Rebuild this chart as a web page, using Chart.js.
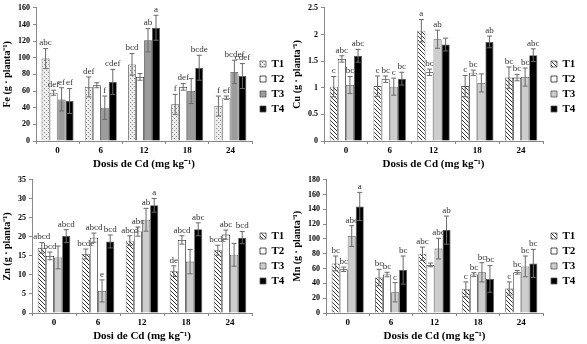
<!DOCTYPE html>
<html>
<head>
<meta charset="utf-8">
<script src="https://cdn.jsdelivr.net/npm/chart.js@4.4.1/dist/chart.umd.min.js"></script>
<style>
  body { margin: 0; background: #fff; }
  canvas { position: absolute; }
</style>
</head>
<body>
<canvas id="fe" width="290" height="172" style="left:0;top:0"></canvas>
<canvas id="cu" width="297" height="172" style="left:290px;top:0"></canvas>
<canvas id="zn" width="290" height="172" style="left:0;top:172px"></canvas>
<canvas id="mn" width="297" height="172" style="left:290px;top:172px"></canvas>
<script>
// Cd doses (categories) and treatments
const doses = ['0', '6', '12', '18', '24'];
const treatments = ['T1', 'T2', 'T3', 'T4'];

// Fe: rows = T1..T4, columns = doses
const feMeans = [[99, 65, 92, 44, 42], [58, 67, 77, 65, 52], [50, 40, 121, 60, 83], [48, 71, 136, 88, 78]];
const feErrors = [[12, 12, 13, 12, 12], [3, 3, 4, 4, 2], [14, 14, 14, 15, 14], [15, 15, 15, 15, 15]];
const feLetters = [['abc', 'def', 'bcd', 'f', 'f'], ['def', '', '', 'def', 'ef'], ['ef', 'f', 'ab', '', 'bcdef'], ['ef', 'cdef', 'a', 'bcde', 'cdef']];
const feTicks = [0, 20, 40, 60, 80, 100, 120, 140, 160];

// Cu
const cuMeans = [[1.02, 1.03, 2.07, 1.03, 1.19], [1.54, 1.16, 1.29, 1.28, 1.19], [1.05, 1.02, 1.91, 1.09, 1.2], [1.6, 1.17, 1.81, 1.86, 1.61]];
const cuErrors = [[0.19, 0.19, 0.21, 0.2, 0.2], [0.06, 0.06, 0.06, 0.05, 0.06], [0.16, 0.16, 0.17, 0.17, 0.17], [0.12, 0.12, 0.12, 0.11, 0.12]];
const cuLetters = [['c', 'c', 'a', 'c', 'bc'], ['abc', 'bc', 'bc', 'bc', 'bc'], ['bc', 'c', 'ab', '', 'bc'], ['abc', 'bc', '', 'ab', 'abc']];
const cuTicks = [0, 0.5, 1, 1.5, 2, 2.5];

// Zn
const znMeans = [[17.1, 15.5, 19, 11, 16.5], [15, 19.8, 21.4, 19.2, 20.6], [14.6, 5.8, 24.5, 13.5, 15.3], [20.2, 18.8, 28.3, 22, 19.8]];
const znErrors = [[1.4, 1.3, 1.3, 1.4, 1.3], [1, 1.2, 1.2, 1.1, 1.2], [3, 2.9, 3, 3.2, 3], [1.7, 1.7, 1.8, 1.7, 1.6]];
const znLetters = [['abcd', 'bcde', 'abcd', 'de', 'bcde'], ['bcd', 'abcd', 'abc', 'abcd', 'abc'], ['', 'e', 'ab', '', ''], ['abcd', 'bcd', 'a', 'abc', 'bcd']];
const znTicks = [0, 5, 10, 15, 20, 25, 30, 35];

// Mn
const mnMeans = [[67, 48, 80, 32, 33], [59, 52, 65, 52, 55], [104, 28, 87, 55, 63], [144, 58, 112, 46, 67]];
const mnErrors = [[10, 11, 9, 10, 9], [3, 3, 2.5, 2.5, 2.5], [14, 13, 14, 13, 14], [19, 19, 19, 18, 19]];
const mnLetters = [['bc', 'bc', 'abc', 'c', 'c'], ['bc', 'bc', '', 'bc', 'bc'], ['abc', 'c', 'abc', 'bc', 'bc'], ['a', 'bc', 'ab', 'bc', 'bc']];
const mnTicks = [0, 20, 40, 60, 80, 100, 120, 140, 160, 180];

const serif = '"Liberation Serif", "Times New Roman", serif';

function makePattern(kind) {
    const c = document.createElement('canvas');
    c.width = 4; c.height = 4;
    const g = c.getContext('2d');
    g.fillStyle = kind === 'dots' ? '#ececec' : '#ffffff';
    g.fillRect(0, 0, 4, 4);
    if (kind === 'dots') {
        g.fillStyle = '#8a8a8a';
        g.fillRect(0, 0, 1, 1);
        g.fillRect(2, 2, 1, 1);
    } else {
        g.strokeStyle = '#333';
        g.lineWidth = 1;
        g.beginPath();
        g.moveTo(-1, -1); g.lineTo(5, 5);
        g.moveTo(-1, 3); g.lineTo(1, 5);
        g.moveTo(3, -1); g.lineTo(5, 1);
        g.stroke();
    }
    return g.createPattern(c, 'repeat');
}

// error bars and significance letters
const errorBars = {
    id: 'errorBars',
    afterLayout(chart) {
        // leave a small gap between the plot and the legend
        chart.legend.left += 4;
        chart.legend.right += 4;
    },
    afterDatasetsDraw(chart) {
        const ctx = chart.ctx;
        const y = chart.scales.y;
        ctx.save();
        chart.data.datasets.forEach((ds, i) => {
            chart.getDatasetMeta(i).data.forEach((bar, j) => {
                const v = ds.data[j], e = ds.errors[j];
                const top = y.getPixelForValue(v + e);
                const bot = y.getPixelForValue(Math.max(0, v - e));
                ctx.strokeStyle = '#6a6a6a';
                ctx.lineWidth = 1;
                ctx.beginPath();
                ctx.moveTo(bar.x, top); ctx.lineTo(bar.x, bot);
                ctx.moveTo(bar.x - 2.5, top); ctx.lineTo(bar.x + 2.5, top);
                ctx.moveTo(bar.x - 2.5, bot); ctx.lineTo(bar.x + 2.5, bot);
                ctx.stroke();
                if (ds.letters[j]) {
                    ctx.fillStyle = '#333';
                    ctx.font = '9px ' + serif;
                    ctx.textAlign = 'center';
                    ctx.textBaseline = 'bottom';
                    ctx.fillText(ds.letters[j], bar.x, top - 1);
                }
            });
        });
        ctx.restore();
    }
};

function drawPanel(id, padRight, yTitle, xTitle, means, errors, letters, ticks, t1Fill, t3Fill) {
    const fills = [t1Fill, '#ffffff', t3Fill, '#000000'];
    const datasets = treatments.map((t, i) => ({
        label: t,
        data: means[i],
        errors: errors[i],
        letters: letters[i],
        backgroundColor: fills[i],
        borderColor: i === 1 ? '#222' : '#555',
        borderWidth: 0.8,
        categoryPercentage: 0.74,
        barPercentage: 1.0
    }));
    new Chart(document.getElementById(id), {
        type: 'bar',
        data: { labels: doses, datasets: datasets },
        options: {
            responsive: false,
            animation: false,
            devicePixelRatio: 1,
            layout: { padding: { left: 1, right: padRight, top: 2, bottom: 1 } },
            plugins: {
                legend: {
                    position: 'right',
                    maxWidth: 38,
                    labels: {
                        boxWidth: 6,
                        boxHeight: 6,
                        padding: 4,
                        color: '#000',
                        font: { family: serif, size: 11, weight: 'bold' }
                    }
                },
                tooltip: { enabled: false }
            },
            scales: {
                x: {
                    grid: { drawOnChartArea: false, tickLength: 3, color: '#888' },
                    border: { color: '#888' },
                    ticks: { color: '#000', padding: 1, font: { family: serif, size: 9, weight: 'bold' } },
                    title: { display: true, text: xTitle, color: '#000', padding: { top: 1, bottom: 0 },
                             font: { family: serif, size: 11, weight: 'bold' } }
                },
                y: {
                    min: ticks[0],
                    max: ticks[ticks.length - 1],
                    afterBuildTicks: axis => { axis.ticks = ticks.map(v => ({ value: v })); },
                    grid: { drawOnChartArea: false, tickLength: 3, color: '#888' },
                    border: { color: '#888' },
                    ticks: { color: '#000', padding: 3, callback: v => String(v),
                             font: { family: serif, size: 8, weight: 'bold' } },
                    title: { display: true, text: yTitle, color: '#000', padding: { top: 0, bottom: 2 },
                             font: { family: serif, size: 10, weight: 'bold' } }
                }
            }
        },
        plugins: [errorBars]
    });
}

const hatch = makePattern('hatch');
drawPanel('fe', 0, 'Fe (g · planta⁻¹)', 'Dosis de Cd (mg kg⁻¹)', feMeans, feErrors, feLetters, feTicks, makePattern('dots'), '#9c9c9c');
drawPanel('cu', 6, 'Cu (g · planta⁻¹)', 'Dosis de Cd (mg kg⁻¹)', cuMeans, cuErrors, cuLetters, cuTicks, hatch, '#cdcdcd');
drawPanel('zn', 0, 'Zn (g · planta⁻¹)', 'Dosi de Cd (mg kg⁻¹)', znMeans, znErrors, znLetters, znTicks, hatch, '#cdcdcd');
drawPanel('mn', 6, 'Mn (g · planta⁻¹)', 'Dosis de Cd (mg kg⁻¹)', mnMeans, mnErrors, mnLetters, mnTicks, hatch, '#cdcdcd');
</script>
</body>
</html>
